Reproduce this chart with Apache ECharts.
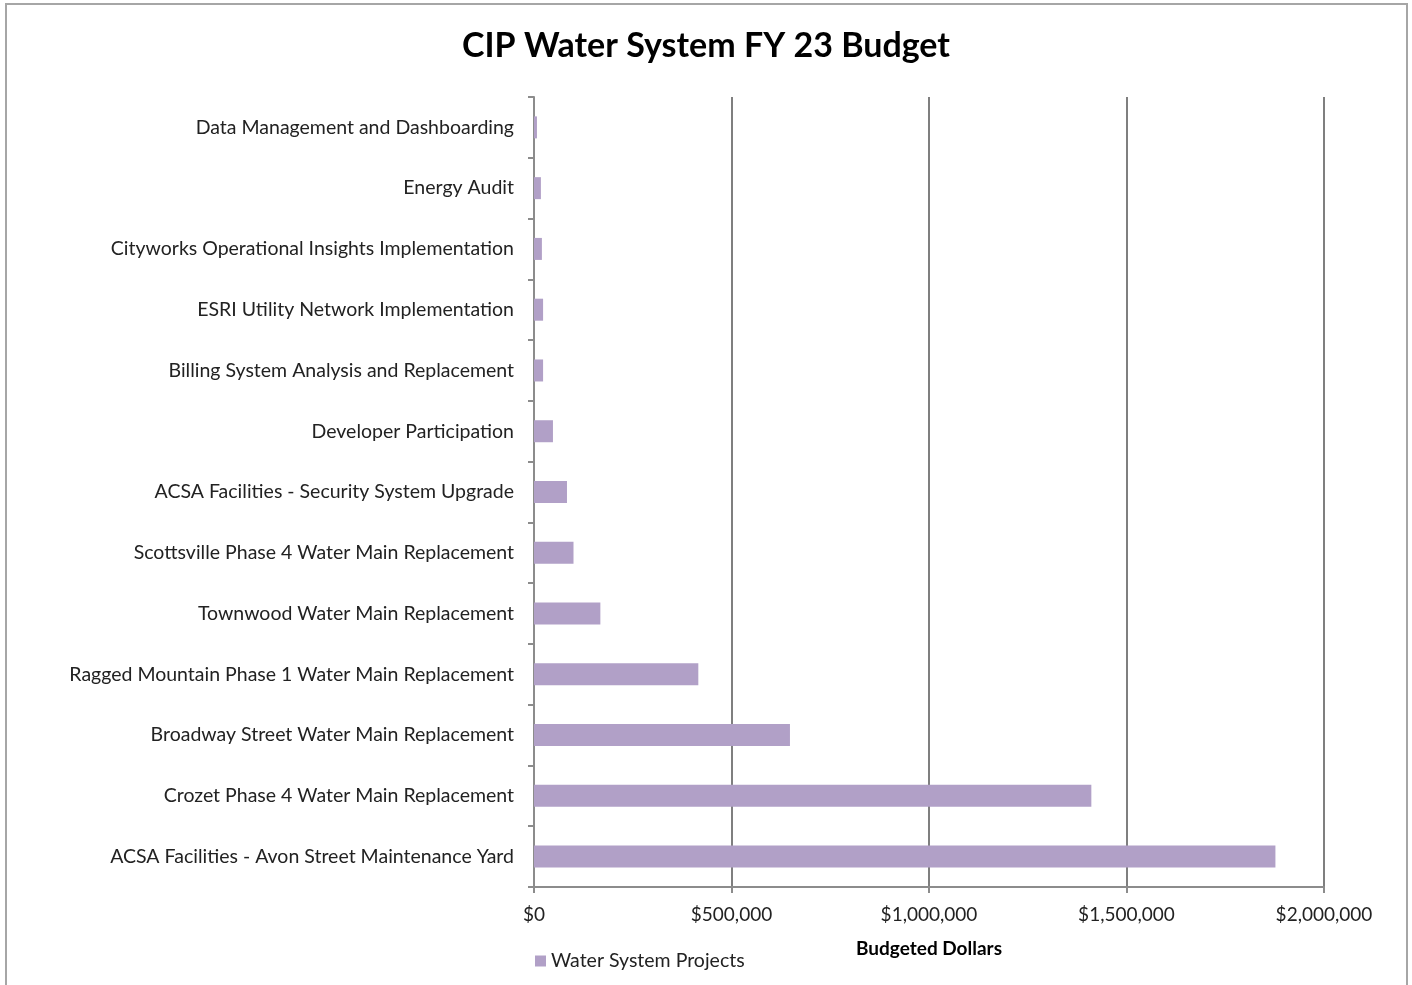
<!DOCTYPE html>
<html><head><meta charset="utf-8">
<script src="https://cdn.jsdelivr.net/npm/echarts@6/dist/echarts.min.js"></script>
<style>html,body{margin:0;padding:0;background:#fff}#c{width:1412px;height:985px}</style>
</head><body><div id="c"></div>
<script>
const categories = [
  "Data Management and Dashboarding",
  "Energy Audit",
  "Cityworks Operational Insights Implementation",
  "ESRI Utility Network Implementation",
  "Billing System Analysis and Replacement",
  "Developer Participation",
  "ACSA Facilities - Security System Upgrade",
  "Scottsville Phase 4 Water Main Replacement",
  "Townwood Water Main Replacement",
  "Ragged Mountain Phase 1 Water Main Replacement",
  "Broadway Street Water Main Replacement",
  "Crozet Phase 4 Water Main Replacement",
  "ACSA Facilities - Avon Street Maintenance Yard"
];
const budget = [7500, 17500, 20000, 23000, 23000, 48000, 83500, 100000, 168000, 416000, 648000, 1411000, 1877000];
const seriesName = "Water System Projects";
const xTicks = [0, 500000, 1000000, 1500000, 2000000];

const chart = echarts.init(document.getElementById('c'), null, {renderer: 'canvas'});
const font = 'Lato, "Open Sans", sans-serif';
chart.setOption({
  animation: false,
  textStyle: {fontFamily: font},
  title: {
    text: "CIP Water System FY 23 Budget",
    left: 'center', top: 24,
    textStyle: {fontFamily: font, fontWeight: 'bold', fontSize: 34, color: '#000'}
  },
  graphic: [{
    type: 'rect', silent: true,
    shape: {x: 6, y: 4, width: 1401, height: 1000},
    style: {fill: 'none', stroke: '#a6a6a6', lineWidth: 2}
  }],
  legend: {
    left: 530, top: 946, icon: 'rect', itemWidth: 11, itemHeight: 11, itemGap: 6,
    textStyle: {fontFamily: font, fontSize: 19.5, color: '#222'},
    data: [seriesName]
  },
  grid: {left: 534, right: 88, top: 97, bottom: 98, containLabel: false},
  xAxis: {
    type: 'value', min: xTicks[0], max: xTicks[xTicks.length - 1], interval: 500000,
    name: 'Budgeted Dollars', nameLocation: 'middle', nameGap: 52,
    nameTextStyle: {fontFamily: font, fontWeight: 'bold', fontSize: 19, color: '#000'},
    axisLine: {show: true, lineStyle: {color: '#8c8c8c', width: 2}},
    axisTick: {show: true, length: 6, lineStyle: {color: '#8c8c8c', width: 2}},
    axisLabel: {
      margin: 18, fontSize: 19, color: '#222', fontFamily: font,
      formatter: v => '$' + v.toLocaleString('en-US')
    },
    splitLine: {show: true, lineStyle: {color: '#7f7f7f', width: 2}}
  },
  yAxis: {
    type: 'category', inverse: true, data: categories,
    axisLine: {show: true, lineStyle: {color: '#8c8c8c', width: 2}},
    axisTick: {show: true, length: 6, lineStyle: {color: '#8c8c8c', width: 2}},
    axisLabel: {margin: 20, fontSize: 19.5, color: '#222', fontFamily: font},
    splitLine: {show: false}
  },
  series: [{
    name: seriesName, type: 'bar', data: budget, barWidth: 22,
    itemStyle: {color: '#b1a0c7'}
  }]
});
</script></body></html>
